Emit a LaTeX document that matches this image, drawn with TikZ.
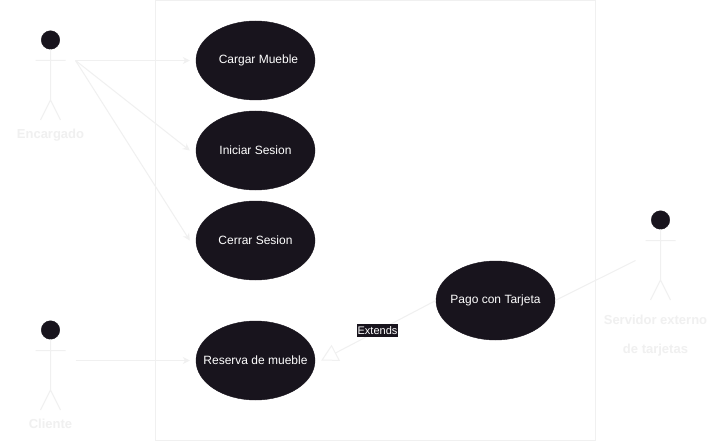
\documentclass[tikz,border=0pt]{standalone}
\usepackage{fontspec}
\setmainfont{Liberation Sans}
\usetikzlibrary{arrows.meta,shapes.geometric}
\definecolor{dk}{HTML}{18141D}
\definecolor{lt}{HTML}{F0F0F0}
\newcommand{\ucl}[1]{\makebox[0pt][c]{#1}}
\tikzset{
  usecase/.style={ellipse,draw=dk,fill=dk,text=white,minimum width=119pt,minimum height=79pt,inner sep=0pt,font=\fontsize{12}{14}\selectfont},
  stick/.style={draw=lt,line width=1pt},
  head/.style={circle,fill=dk,draw=dk,minimum size=18.5pt,inner sep=0pt},
  actorlabel/.style={text=lt,font=\fontsize{13}{15}\selectfont\bfseries,inner sep=0pt},
  assoc/.style={draw=lt,line width=1pt,-{Stealth[length=7pt,width=7pt]}},
  plain/.style={draw=lt,line width=1pt},
  extend/.style={draw=lt,line width=1pt,-{Triangle[open,length=16.5pt,width=18pt]}},
  tag/.style={fill=dk,text=white,inner xsep=1pt,inner ysep=1pt,minimum width=39pt,minimum height=13pt,font=\fontsize{11}{13}\selectfont}
}
\begin{document}
\begin{tikzpicture}[x=1pt,y=-1pt]
\useasboundingbox (0,0) rectangle (707,441);
\fill[white] (0,0) rectangle (707,441);
\draw[draw=lt,line width=1pt] (155.5,0.5) rectangle (595.5,440.5);
% use cases
\node[usecase] (carga) at (255.5,60.5) {\hspace{6pt}\ucl{Cargar Mueble}};
\node[usecase] (inicio) at (255.5,150.5) {\ucl{Iniciar Sesion}};
\node[usecase] (cierre) at (255.5,240.5) {\ucl{Cerrar Sesion}};
\node[usecase] (reserva) at (255.5,360.5) {\ucl{Reserva de mueble}};
\node[usecase] (pago) at (495.5,300.5) {\ucl{Pago con Tarjeta}};
% actor Encargado
\node[head] (h1) at (50.5,40) {};
\draw[stick] (h1.south) -- (50.5,100) -- (40.5,120) (50.5,100) -- (60.5,120) (35.5,60.5) -- (65.5,60.5);
\node[actorlabel] (l1) at (50.5,135) {Encargado};
\coordinate (a1) at (75.5,60.5);
% actor Cliente
\node[head] (h2) at (50.5,330) {};
\draw[stick] (h2.south) -- (50.5,390) -- (40.5,410) (50.5,390) -- (60.5,410) (35.5,350.5) -- (65.5,350.5);
\node[actorlabel] (l2) at (50.5,423.5) {Cliente};
\coordinate (a2) at (75.5,360.5);
% actor Servidor
\node[head] (h3) at (660.5,220) {};
\draw[stick] (h3.south) -- (660.5,280) -- (650.5,300) (660.5,280) -- (670.5,300) (645.5,240.5) -- (675.5,240.5);
\node[actorlabel] (l3) at (655.5,319.5) {Servidor externo};
\node[actorlabel] (l4) at (655.5,350) {de tarjetas};
\coordinate (a3) at (635.5,260.5);
% connectors
\draw[assoc] (a1) -- ([xshift=-6pt]carga.west);
\draw[assoc] (a1) -- ([xshift=-6pt]inicio.west);
\draw[assoc] (a1) -- ([xshift=-6pt]cierre.west);
\draw[assoc] (a2) -- ([xshift=-6pt]reserva.west);
\draw[plain] (pago.east) -- (a3);
\draw[extend] (pago.west) -- ([xshift=6pt]reserva.east);
\node[tag] (ext) at (377.5,330.2) {Extends};
\end{tikzpicture}
\end{document}
